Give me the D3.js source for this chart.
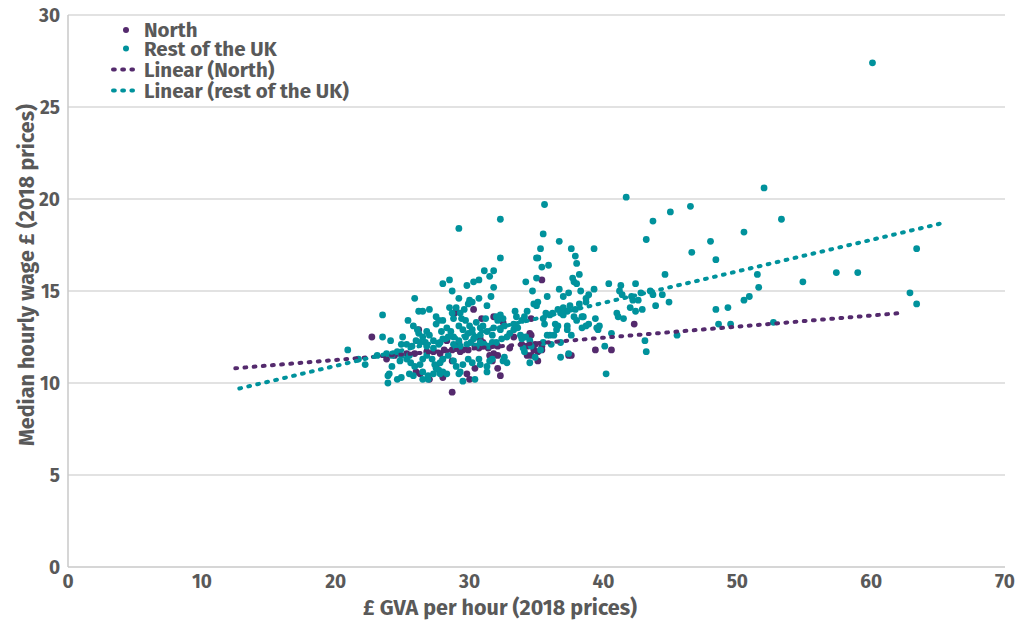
<!DOCTYPE html>
<html>
<head>
<meta charset="utf-8">
<script src="https://cdn.jsdelivr.net/npm/d3@7"></script>
<style>
    html, body { margin: 0; padding: 0; background: #fff; }
    svg { display: block; font-family: "Fira Sans", "Open Sans", "Noto Sans", sans-serif; font-weight: 700; }
    .grid line { stroke: #d9d9d9; stroke-width: 1.5; }
    .axis-line { stroke: #c8c8c8; stroke-width: 1.5; }
    .tick-label, .axis-title, .legend text { fill: #595959; }
</style>
</head>
<body>
<svg id="chart" width="1030" height="624"></svg>
<script>
// £ GVA per hour (x), median hourly wage £ (y), 2018 prices
const northPoints = [
    [35.4, 15.6], [30.3, 14.0], [30.9, 13.5], [31.8, 13.6], [32.5, 13.3], [29.0, 13.9], [34.6, 13.5],
    [33.3, 12.5], [33.9, 12.5], [34.6, 12.6], [42.3, 13.2], [22.7, 12.5], [23.8, 11.3], [24.4, 11.5],
    [25.3, 11.6], [25.9, 11.6], [26.8, 11.7], [27.3, 11.7], [27.8, 11.6], [28.1, 11.8], [28.7, 11.8],
    [29.2, 12.2], [29.9, 11.8], [30.4, 12.0], [31.0, 12.2], [31.8, 11.6], [32.1, 11.5], [31.7, 11.2],
    [29.8, 10.5], [30.0, 10.2], [30.4, 10.8], [32.1, 10.8], [32.3, 10.4], [27.0, 10.2], [28.7, 9.5],
    [34.3, 11.5], [34.6, 11.5], [35.1, 11.7], [35.4, 11.8], [35.1, 11.2], [37.4, 11.5], [37.6, 11.5],
    [39.4, 11.8], [40.6, 11.8], [26.0, 10.6], [26.3, 10.5], [28.0, 10.3], [27.5, 10.9], [26.2, 12.9],
    [33.9, 12.1], [34.5, 12.7], [34.8, 11.8], [35.4, 12.0], [30.8, 12.4], [34.3, 12.0], [34.9, 12.1],
    [29.5, 11.8], [30.7, 11.9], [31.4, 11.9], [32.1, 12.0], [33.0, 11.9], [28.3, 12.3], [29.3, 11.7],
    [28.0, 11.3], [28.7, 11.2], [28.9, 13.8], [31.5, 11.5]
];

const restPoints = [
    [60.1, 27.4],
    [45.0, 19.3], [46.5, 19.6], [52.0, 20.6], [53.3, 18.9], [50.5, 18.2], [48.0, 17.7], [46.6, 17.1],
    [48.4, 16.7], [44.6, 15.9], [51.5, 15.9], [57.4, 16.0], [59.0, 16.0], [63.4, 17.3], [54.9, 15.5],
    [51.6, 15.2], [62.9, 14.9], [63.4, 14.3], [50.9, 14.7], [50.5, 14.5], [44.4, 14.8], [44.9, 14.4],
    [48.4, 14.0], [49.3, 14.1], [48.6, 13.2], [49.5, 13.2], [52.7, 13.3], [45.5, 12.6],
    [41.7, 20.1], [43.7, 18.8], [43.2, 17.8], [39.3, 17.3], [40.4, 15.4], [41.3, 15.3], [42.4, 15.4],
    [39.3, 15.1], [41.2, 15.0], [41.4, 14.8], [42.1, 14.7], [42.8, 14.9], [43.5, 15.0], [43.7, 14.8],
    [38.7, 14.6], [38.9, 14.8], [42.2, 14.5], [42.6, 14.5], [43.9, 14.2], [42.0, 14.1], [42.4, 13.9],
    [42.9, 14.0], [38.2, 14.3], [38.5, 13.6], [41.0, 13.8], [41.1, 13.6], [41.5, 13.5], [38.9, 13.2],
    [39.5, 13.0], [39.6, 12.9], [40.6, 12.7], [43.1, 12.3], [43.2, 11.7], [40.2, 10.5], [40.1, 12.0],
    [35.6, 19.7], [32.3, 18.9], [29.2, 18.4], [35.5, 18.1], [36.7, 17.7], [37.6, 17.3], [35.3, 17.3],
    [37.9, 16.9], [38.0, 16.5], [35.9, 16.4], [35.4, 16.3], [35.0, 16.8], [35.1, 16.8], [32.3, 16.8],
    [38.2, 15.9], [37.7, 15.7], [37.8, 15.5], [36.7, 15.1], [37.4, 14.9], [38.3, 15.0], [35.0, 15.7],
    [34.2, 15.5], [34.7, 15.0], [35.1, 14.4], [35.0, 14.2], [34.8, 14.3], [35.8, 14.7], [37.0, 14.7],
    [38.0, 15.4], [38.7, 14.4], [37.9, 14.0], [37.3, 13.9], [36.8, 13.8], [37.0, 13.7], [35.7, 13.8],
    [35.5, 13.5], [36.0, 13.7], [35.6, 13.2], [36.4, 13.2], [36.6, 13.1], [37.3, 13.1], [37.3, 12.9],
    [38.4, 13.6], [36.0, 12.6], [36.3, 12.6], [35.8, 12.6], [37.6, 12.6], [36.1, 12.1], [35.5, 12.2],
    [37.4, 11.6], [36.8, 11.4], [37.8, 13.6], [38.0, 13.4], [39.4, 13.5], [39.7, 13.1], [38.4, 13.0],
    [38.7, 13.1], [36.2, 13.8], [36.6, 14.0], [37.0, 14.1], [37.5, 14.2], [36.5, 12.9], [36.8, 12.2],
    [35.3, 11.8], [34.9, 11.4], [34.5, 11.1], [34.1, 11.7], [34.0, 11.9], [34.5, 12.3], [34.6, 12.0],
    [28.5, 15.6], [28.0, 15.4], [29.8, 15.3], [30.3, 15.5], [30.7, 15.6], [31.1, 16.1], [31.8, 16.1],
    [31.5, 15.8], [31.8, 15.2],
    [23.5, 13.7], [25.9, 14.6], [28.7, 15.0], [29.2, 14.6], [31.6, 14.7], [30.2, 14.4], [30.7, 14.6],
    [31.3, 14.2], [29.9, 14.3], [30.0, 14.5],
    [26.2, 13.9], [26.5, 13.9], [27.0, 14.0], [28.5, 14.1], [29.0, 14.1], [29.6, 14.0], [28.7, 13.8],
    [29.3, 13.8], [27.5, 13.6], [27.7, 13.4], [27.5, 13.2], [28.0, 13.4], [28.3, 13.0], [25.4, 13.4],
    [25.8, 13.1], [26.2, 12.7], [26.1, 12.9], [26.8, 12.8], [28.8, 13.5], [29.4, 13.5], [29.7, 13.4],
    [29.2, 13.1], [29.5, 12.9], [29.9, 12.7], [30.5, 13.3], [30.8, 13.0], [31.0, 13.1], [30.2, 12.9],
    [30.4, 12.5], [30.8, 12.6], [31.3, 12.8], [31.7, 12.6], [32.0, 13.6], [32.3, 13.7], [32.5, 13.5],
    [32.1, 13.4], [31.8, 13.0], [32.3, 12.9], [32.6, 13.1], [27.0, 12.6], [27.3, 12.3], [28.6, 12.8],
    [30.0, 13.1], [31.2, 13.5], [27.9, 12.8], [26.5, 12.5], [33.4, 13.9], [34.3, 13.9],
    [23.5, 12.5], [24.1, 12.3], [25.0, 12.5], [24.9, 12.1], [25.3, 12.1], [25.7, 12.0], [26.0, 12.3],
    [26.3, 12.2], [26.7, 12.2], [26.8, 12.0], [27.3, 11.9], [27.7, 12.1], [27.8, 12.2], [28.0, 12.4],
    [28.4, 12.5], [28.8, 12.5], [29.2, 12.3], [28.8, 12.1], [29.0, 11.9], [29.3, 12.0], [29.7, 12.5],
    [29.8, 12.1], [30.1, 12.2], [30.3, 12.4], [30.5, 12.0], [30.8, 12.2], [31.1, 12.1], [31.4, 12.0],
    [31.7, 12.2], [32.0, 12.2], [32.4, 12.4], [32.8, 12.5], [33.0, 12.7], [33.3, 12.9], [33.6, 13.0],
    [33.8, 12.6], [33.9, 12.4], [34.2, 12.5], [33.3, 13.2], [33.5, 13.6], [34.1, 13.6], [33.9, 13.4],
    [20.9, 11.8], [22.2, 11.0], [23.1, 11.5], [23.8, 11.6], [24.2, 11.5], [24.6, 11.7], [24.9, 11.5],
    [25.3, 11.3], [25.5, 11.5], [25.6, 11.1], [25.9, 10.9], [26.3, 11.0], [26.5, 11.3], [26.8, 11.5],
    [27.2, 11.3], [27.4, 11.0], [27.7, 10.7], [27.8, 11.1], [28.0, 11.3], [28.4, 11.5], [28.8, 11.2],
    [29.0, 10.9], [29.3, 10.6], [29.5, 11.0], [29.9, 11.3], [30.2, 11.1], [30.7, 11.3], [30.8, 11.0],
    [31.3, 10.9], [31.5, 11.2], [31.7, 11.3], [32.5, 11.2], [32.8, 11.1], [32.6, 11.4], [24.2, 10.9],
    [24.0, 10.5], [24.6, 10.2], [23.9, 10.4], [23.9, 10.0], [25.5, 10.5], [25.8, 10.4], [26.5, 10.6],
    [26.9, 10.4], [26.5, 10.2], [26.9, 10.2], [27.3, 10.5], [27.8, 10.5], [27.5, 10.8], [28.0, 10.6],
    [28.3, 10.5], [29.2, 10.5], [29.5, 10.1], [30.4, 10.2], [31.3, 10.6], [24.8, 11.2], [24.9, 10.3],
    [21.7, 11.3]
];

// linear trend lines as [start, end] pairs
const northTrend = [[12.5, 10.8], [62.2, 13.8]];
const restTrend  = [[12.8, 9.7], [65.4, 18.7]];

const xTicks = [0, 10, 20, 30, 40, 50, 60, 70];
const yTicks = [0, 5, 10, 15, 20, 25, 30];

const legendLabels = ['North', 'Rest of the UK', 'Linear (North)', 'Linear (rest of the UK)'];

const colors = {north: '#542a6d', rest: '#00929c'};

const margin = {top: 15, right: 25, bottom: 57, left: 68},
      width  = 1030 - margin.left - margin.right,
      height = 624 - margin.top - margin.bottom;

const svg = d3.select('#chart');
const g   = svg.append('g').attr('transform', `translate(${margin.left}, ${margin.top})`);

const x = d3.scaleLinear().domain([0, 70]).range([0, width]);
const y = d3.scaleLinear().domain([0, 30]).range([height, 0]);

// horizontal grid
g.append('g')
    .attr('class', 'grid')
    .selectAll('line')
    .data(yTicks.filter(d => d > 0))
    .enter()
    .append('line')
    .attr('x1', 0)
    .attr('x2', width)
    .attr('y1', d => y(d))
    .attr('y2', d => y(d));

g.append('line').attr('class', 'axis-line')
    .attr('x1', 0).attr('x2', width).attr('y1', height).attr('y2', height);
g.append('line').attr('class', 'axis-line')
    .attr('x1', 0).attr('x2', 0).attr('y1', 0).attr('y2', height);

// tick labels
g.append('g')
    .selectAll('text')
    .data(yTicks)
    .enter()
    .append('text')
    .attr('class', 'tick-label')
    .attr('x', -8)
    .attr('y', d => y(d))
    .attr('dy', '0.35em')
    .attr('text-anchor', 'end')
    .style('font-size', '19px')
    .text(d => d);

g.append('g')
    .selectAll('text')
    .data(xTicks)
    .enter()
    .append('text')
    .attr('class', 'tick-label')
    .attr('x', d => x(d))
    .attr('y', height + 21)
    .attr('text-anchor', 'middle')
    .style('font-size', '19px')
    .text(d => d);

// axis titles
svg.append('text')
    .attr('class', 'axis-title')
    .attr('x', 500)
    .attr('y', 615)
    .attr('text-anchor', 'middle')
    .style('font-size', '21.5px')
    .text('£ GVA per hour (2018 prices)');

svg.append('text')
    .attr('class', 'axis-title')
    .attr('transform', 'translate(34, 275) rotate(-90)')
    .attr('text-anchor', 'middle')
    .style('font-size', '21.5px')
    .text('Median hourly wage £ (2018 prices)');

// points
function drawPoints(data, color) {
    g.append('g')
        .selectAll('circle')
        .data(data)
        .enter()
        .append('circle')
        .attr('cx', d => x(d[0]))
        .attr('cy', d => y(d[1]))
        .attr('r', 3.4)
        .attr('fill', color);
}
drawPoints(northPoints, colors.north);
drawPoints(restPoints, colors.rest);

// dotted trend lines
const line = d3.line().x(d => x(d[0])).y(d => y(d[1]));
function drawTrend(data, color) {
    g.append('path')
        .datum(data)
        .attr('d', line)
        .attr('fill', 'none')
        .attr('stroke', color)
        .attr('stroke-width', 4)
        .attr('stroke-linecap', 'round')
        .attr('stroke-dasharray', '1.8 7.4');
}
drawTrend(northTrend, colors.north);
drawTrend(restTrend, colors.rest);

// legend
const legendRows = [30, 48.5, 69.5, 90.5];
const legend = svg.append('g').attr('class', 'legend');
legendLabels.forEach((label, i) => {
    const row = legend.append('g').attr('transform', `translate(0, ${legendRows[i]})`);
    const color = i % 2 === 0 ? colors.north : colors.rest;
    if (i < 2) {
        row.append('circle').attr('cx', 126).attr('cy', 0).attr('r', 3).attr('fill', color);
    } else {
        row.append('line')
            .attr('x1', 113).attr('x2', 133).attr('y1', 0).attr('y2', 0)
            .attr('stroke', color)
            .attr('stroke-width', 4)
            .attr('stroke-linecap', 'round')
            .attr('stroke-dasharray', '1.8 7.4');
    }
    row.append('text')
        .attr('x', 144)
        .attr('y', 0)
        .attr('dy', '0.35em')
        .style('font-size', '20.5px')
        .text(label);
});
</script>
</body>
</html>
